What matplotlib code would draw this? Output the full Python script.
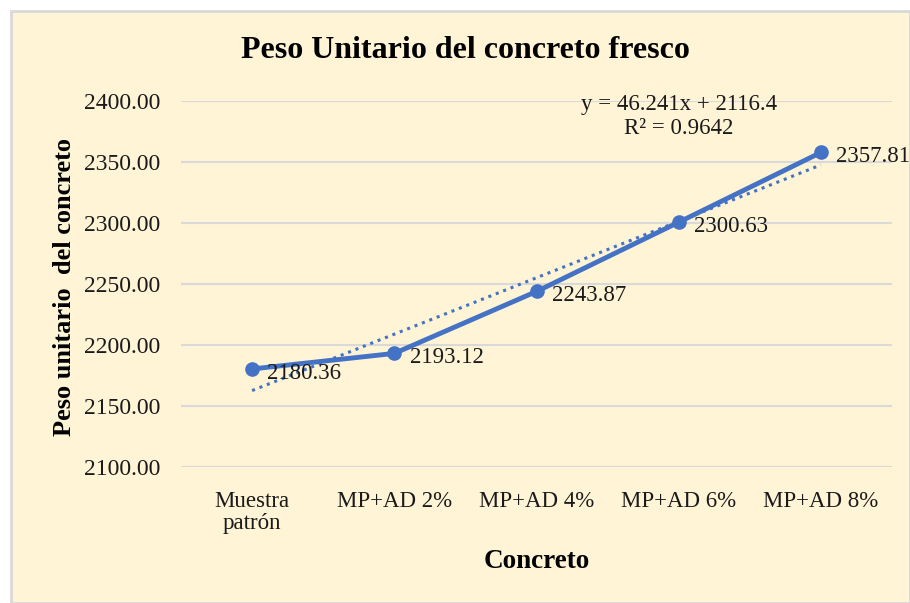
import numpy as np
import matplotlib
matplotlib.use("Agg")
import matplotlib.pyplot as plt
from matplotlib.patches import Rectangle

# Datos del gráfico
categorias = ["Muestra\npatrón", "MP+AD 2%", "MP+AD 4%", "MP+AD 6%", "MP+AD 8%"]
peso_unitario = [2180.36, 2193.12, 2243.87, 2300.63, 2357.81]
pendiente = 46.241
intercepto = 2116.4
r2 = 0.9642
y_ticks = [2100, 2150, 2200, 2250, 2300, 2350, 2400]

plt.rcParams['font.family'] = ['Liberation Serif', 'DejaVu Serif']

fondo = '#FFF4D6'
azul = '#4472C4'

fig = plt.figure(figsize=(9.10, 6.03), dpi=100)
fig.patch.set_facecolor('white')
fig.patches.append(Rectangle((11 / 910, 0), 1 - 11 / 910, 1 - 11 / 603,
                             transform=fig.transFigure, facecolor=fondo,
                             edgecolor='#D9D9D9', linewidth=2, zorder=-10))

ax = fig.add_axes([181 / 910, 1 - 467 / 603, (892 - 181) / 910, (467 - 101) / 603])
ax.set_facecolor('none')

x = np.arange(1, len(categorias) + 1)

# Línea de tendencia
ax.plot(x, pendiente * x + intercepto, linestyle=(0, (1, 1.6)), color=azul, lw=2.2, zorder=2)

# Serie principal
ax.plot(x, peso_unitario, color=azul, lw=3.5, marker='o', markersize=9.5, zorder=3)

for xi, yi in zip(x, peso_unitario):
    ax.annotate(f"{yi:.2f}", (xi, yi), xytext=(11, -3), textcoords='offset points',
                ha='left', va='center', fontsize=16.5, color='#1a1a1a', zorder=4,
                annotation_clip=False)

ax.text(0.70, 0.958, f"y = {pendiente}x + {intercepto}\nR² = {r2}", transform=ax.transAxes,
        ha='center', va='center', fontsize=16.5, color='#1a1a1a', linespacing=1.15)

ax.set_xlim(0.5, len(categorias) + 0.5)
ax.set_ylim(2100, 2400)
ax.set_yticks(y_ticks)
ax.set_yticklabels([f"{v:.2f}" for v in y_ticks])
ax.set_xticks(x)
ax.set_xticklabels(categorias, fontsize=16.5, linespacing=1.1)
ax.grid(axis='y', color='#D9D9D9', lw=1.5)
ax.set_axisbelow(True)
for s in ax.spines.values():
    s.set_visible(False)
ax.tick_params(length=0, colors='#1a1a1a')
ax.tick_params(axis='x', pad=17)
ax.tick_params(axis='y', pad=15, labelsize=17)

fig.text(465 / 910, 1 - 50 / 603, "Peso Unitario del concreto fresco", ha='center', va='center',
         fontsize=23, fontweight='bold')
fig.text(537 / 910, 1 - 562 / 603, "Concreto", ha='center', va='center',
         fontsize=19.5, fontweight='bold')
fig.text(65 / 910, 1 - 287 / 603, "Peso unitario  del concreto", ha='center', va='center',
         rotation=90, fontsize=19, fontweight='bold')

fig.savefig("out.png", dpi=100)
